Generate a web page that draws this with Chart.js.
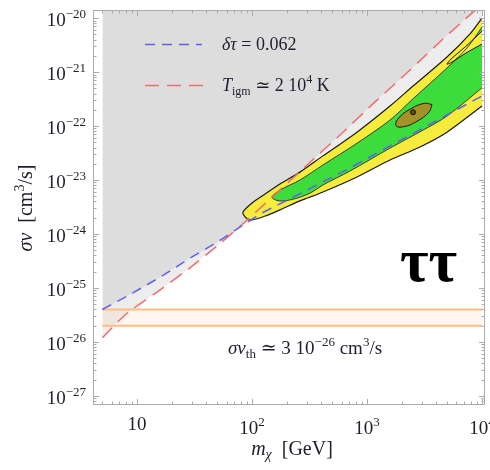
<!DOCTYPE html>
<html>
<head>
<meta charset="utf-8">
<script src="https://cdn.jsdelivr.net/npm/chart.js@4.4.1/dist/chart.umd.min.js"></script>
<style>
  html, body { margin: 0; padding: 0; background: #fff; }
  #wrap { width: 490px; height: 470px; position: relative; }
</style>
</head>
<body>
<div id="wrap"><canvas id="chart"></canvas></div>
<script>
// delta-tau = 0.062 bound (blue dashed), m_chi in GeV, sigma v in cm^3/s
const tauMass  = [5, 9.2, 16, 29, 50, 79, 117, 227, 712, 1585, 3070, 4960, 10000];
const tauSigma = [4.0e-26, 8.1e-26, 1.6e-25, 3.6e-25, 7.1e-25, 1.35e-24, 2.35e-24, 4.8e-24, 1.67e-23, 4.3e-23, 9.2e-23, 1.6e-22, 3.6e-22];

// T_igm ~ 2 10^4 K bound (red dashed)
const igmMass  = [5, 7.9, 14.9, 27.2, 49.6, 86.9, 301, 582, 1175, 2365, 4580, 8360, 10000];
const igmSigma = [1.2e-26, 3.2e-26, 8.4e-26, 2.15e-25, 6.0e-25, 1.67e-24, 1.9e-23, 6.8e-23, 2.8e-22, 1.09e-21, 4.1e-21, 1.29e-20, 1.8e-20];

// thermal relic band
const thermalMass = [5, 10000];
const thermalLow  = [2e-26, 2e-26];
const thermalHigh = [4e-26, 4e-26];

// fit contours, outer (yellow) and inner (green), traced lower edge -> tip -> upper edge
const yellowMass  = [10000, 4960, 2890, 1585, 818, 414, 261, 175, 130, 96, 87, 83.5, 100, 130, 175, 261, 414, 818, 1585, 2512, 4960, 7870, 10000];
const yellowSigma = [2.35e-22, 7.7e-23, 4.1e-23, 2.35e-23, 1.14e-23, 6.0e-24, 4.1e-24, 2.8e-24, 2.15e-24, 1.8e-24, 2.07e-24, 2.55e-24, 3.75e-24, 5.5e-24, 8.4e-24, 1.4e-23, 2.8e-23, 7.7e-23, 2.35e-22, 5.5e-22, 1.9e-21, 5.1e-21, 1.0e-20];

const greenMass  = [10000, 4960, 3070, 1585, 712, 414, 319, 227, 172, 149, 175, 261, 414, 818, 1585, 2512, 4960, 7410, 10000];
const greenSigma = [5.1e-22, 1.53e-22, 8.4e-23, 3.9e-23, 1.47e-23, 8.1e-24, 5.7e-24, 4.4e-24, 4.1e-24, 4.8e-24, 6.5e-24, 1.0e-23, 1.9e-23, 4.8e-23, 1.29e-22, 3.2e-22, 1.19e-21, 2.8e-21, 6.8e-21];

// outer-level island inside the green region, top right
const fingerMass  = [10000, 7260, 5480, 4960, 5380, 7120, 10000];
const fingerSigma = [3.3e-21, 2.25e-21, 1.53e-21, 1.4e-21, 1.74e-21, 2.9e-21, 5.7e-21];

// innermost contour and best fit
const coreMass  = [3675, 3462, 2749, 2077, 1787, 1887, 2389, 3156, 3675];
const coreSigma = [2.5e-22, 1.82e-22, 1.24e-22, 9.7e-23, 1.02e-22, 1.41e-22, 2.07e-22, 2.63e-22, 2.5e-22];
const bestMass  = [2512];
const bestSigma = [1.8e-22];

// axis ticks
const xTickValues = [10, 100, 1000, 10000];
const xTickLabels = ['10', '10^2', '10^3', '10^4'];
const yTickValues = [1e-27, 1e-26, 1e-25, 1e-24, 1e-23, 1e-22, 1e-21, 1e-20];
const yTickLabels = ['10^\u221227', '10^\u221226', '10^\u221225', '10^\u221224', '10^\u221223', '10^\u221222', '10^\u221221', '10^\u221220'];

function pts(xs, ys) {
    return xs.map(function (x, i) { return { x: x, y: ys[i] }; });
}

const SERIF = '"Liberation Serif", "DejaVu Serif", serif';

function richFont(style, size) {
    const small  = style === 'sub' || style === 'sup' || style === 'isub';
    const italic = style === 'i' || style === 'isub';
    return (italic ? 'italic ' : '') + (small ? Math.round(size * 0.68) : size) + 'px ' + SERIF;
}

// draws text made of [string, style] pieces with sub/superscripts
function drawRich(ctx, parts, x, y, size, align) {
    let w = 0;
    parts.forEach(function (p) {
        ctx.font = richFont(p[1], size);
        w += ctx.measureText(p[0]).width;
    });
    let cx = align === 'center' ? x - w / 2 : (align === 'right' ? x - w : x);
    ctx.textAlign = 'left';
    ctx.textBaseline = 'alphabetic';
    parts.forEach(function (p) {
        ctx.font = richFont(p[1], size);
        let dy = 0;
        if (p[1] === 'sup') dy = -size * 0.42;
        if (p[1] === 'sub' || p[1] === 'isub') dy = size * 0.22;
        ctx.fillText(p[0], cx, y + dy);
        cx += ctx.measureText(p[0]).width;
    });
}

function powerParts(label) {
    const bits = label.split('^');
    return bits.length > 1 ? [[bits[0], ''], [bits[1], 'sup']] : [[bits[0], '']];
}

const TAU_BLUE = '#5f5ff2';
const IGM_RED  = '#f06c6c';

// frame with inward ticks on all four sides, tick labels, axis titles
const frameTicks = {
    id: 'frameTicks',
    afterDatasetsDraw: function (chart) {
        const ctx = chart.ctx;
        const a   = chart.chartArea;
        const x   = chart.scales.x;
        const y   = chart.scales.y;

        ctx.save();
        ctx.strokeStyle = '#ababab';
        ctx.lineWidth = 1;
        ctx.strokeRect(a.left + 0.5, a.top + 0.5, a.right - a.left - 1, a.bottom - a.top - 1);

        ctx.beginPath();
        for (let e = 0; e <= 4; e++) {
            for (let k = 1; k <= 9; k++) {
                const v = k * Math.pow(10, e);
                if (v < x.min || v > x.max) continue;
                const px  = Math.round(x.getPixelForValue(v)) + 0.5;
                const len = k === 1 ? 6 : 3.5;
                ctx.moveTo(px, a.bottom); ctx.lineTo(px, a.bottom - len);
                ctx.moveTo(px, a.top);    ctx.lineTo(px, a.top + len);
            }
        }
        for (let e = -28; e <= -20; e++) {
            for (let k = 1; k <= 9; k++) {
                const v = k * Math.pow(10, e);
                if (v < y.min || v > y.max) continue;
                const py  = Math.round(y.getPixelForValue(v)) + 0.5;
                const len = k === 1 ? 6 : 3.5;
                ctx.moveTo(a.left, py);  ctx.lineTo(a.left + len, py);
                ctx.moveTo(a.right, py); ctx.lineTo(a.right - len, py);
            }
        }
        ctx.stroke();

        ctx.fillStyle = '#1e1e28';
        xTickValues.forEach(function (v, i) {
            const parts = powerParts(xTickLabels[i]);
            drawRich(ctx, parts, x.getPixelForValue(v), a.bottom + (parts.length > 1 ? 29 : 25), 19, 'center');
        });
        yTickValues.forEach(function (v, i) {
            drawRich(ctx, powerParts(yTickLabels[i]), a.left - 7, y.getPixelForValue(v) + 8, 19, 'right');
        });

        // axis titles
        drawRich(ctx, [['m', 'i'], ['\u03c7', 'isub'], ['  [GeV]', '']], (a.left + a.right) / 2 + 3, a.bottom + 50, 20, 'center');
        ctx.save();
        ctx.translate(32, 208);
        ctx.rotate(-Math.PI / 2);
        drawRich(ctx, [['\u03c3v', 'i'], ['  [cm', ''], ['3', 'sup'], ['/s]', '']], 0, 0, 20, 'center');
        ctx.restore();
        ctx.restore();
    }
};

// legend, thermal cross section note and channel label
const annotations = {
    id: 'annotations',
    afterDraw: function (chart) {
        const ctx = chart.ctx;
        ctx.save();
        ctx.lineWidth = 1.5;

        ctx.strokeStyle = TAU_BLUE;
        ctx.setLineDash([10, 7]);
        ctx.beginPath(); ctx.moveTo(145, 44.5); ctx.lineTo(202, 44.5); ctx.stroke();

        ctx.strokeStyle = IGM_RED;
        ctx.setLineDash([14, 8]);
        ctx.beginPath(); ctx.moveTo(145, 85.5); ctx.lineTo(206, 85.5); ctx.stroke();
        ctx.setLineDash([]);

        ctx.fillStyle = '#1e1e30';
        drawRich(ctx, [['\u03b4\u03c4', 'i'], [' = 0.062', '']], 222, 50, 18, 'left');
        drawRich(ctx, [['T', 'i'], ['igm', 'sub'], [' \u2243 2 10', ''], ['4', 'sup'], [' K', '']], 222, 91, 18, 'left');
        drawRich(ctx, [['\u03c3v', 'i'], ['th', 'sub'], [' \u2243 3 10', ''], ['\u221226', 'sup'], [' cm', ''], ['3', 'sup'], ['/s', '']], 228, 354, 19, 'left');

        ctx.fillStyle = '#000';
        ctx.font = 'bold 62px ' + SERIF;
        ctx.textAlign = 'left';
        ctx.fillText('\u03c4\u03c4', 400, 281);
        ctx.restore();
    }
};

const GREY_FILL = 'rgba(0,0,0,0.07)';

const datasets = [
    { data: pts(tauMass, tauSigma), fill: 'end', backgroundColor: GREY_FILL, borderWidth: 0, order: 10 },
    { data: pts(igmMass, igmSigma), fill: 'end', backgroundColor: GREY_FILL, borderWidth: 0, tension: 0.2, order: 10 },
    { data: pts(thermalMass, thermalHigh), fill: '+1', backgroundColor: 'rgba(255,170,100,0.1)', borderColor: '#ffbd85', borderWidth: 2, order: 9 },
    { data: pts(thermalMass, thermalLow), fill: false, borderColor: '#ffbd85', borderWidth: 2, order: 9 },
    { data: pts(yellowMass, yellowSigma), fill: 'shape', backgroundColor: '#f7ec3c', borderColor: '#1a1a1a', borderWidth: 1.2, tension: 0.3, order: 6 },
    { data: pts(greenMass, greenSigma), fill: 'shape', backgroundColor: '#3ddc3d', borderColor: '#2a2a2a', borderWidth: 0.9, tension: 0.3, order: 5 },
    { data: pts(fingerMass, fingerSigma), fill: 'shape', backgroundColor: '#f7ec3c', borderColor: '#1a1a1a', borderWidth: 1, tension: 0.3, order: 4 },
    { data: pts(coreMass, coreSigma), fill: 'shape', backgroundColor: '#a39226', borderColor: '#1a1a1a', borderWidth: 1, tension: 0.45, order: 3 },
    { data: pts(tauMass, tauSigma), fill: false, borderColor: TAU_BLUE, borderWidth: 1.5, borderDash: [10, 7], order: 2 },
    { data: pts(igmMass, igmSigma), fill: false, borderColor: IGM_RED, borderWidth: 1.5, borderDash: [14, 8], tension: 0.2, order: 2 },
    { data: pts(bestMass, bestSigma), showLine: false, pointRadius: 2.5, pointBackgroundColor: '#5a4c10', pointBorderColor: '#111', pointBorderWidth: 1, order: 1 }
];

new Chart(document.getElementById('chart'), {
    type: 'line',
    data: { datasets: datasets },
    options: {
        responsive: true,
        maintainAspectRatio: false,
        animation: false,
        layout: { padding: { left: 93, right: 5, top: 10, bottom: 65 } },
        scales: {
            x: { type: 'logarithmic', min: 4.14, max: 10620, display: false },
            y: { type: 'logarithmic', min: 6.8e-28, max: 1.41e-20, display: false }
        },
        elements: { point: { radius: 0 }, line: { tension: 0 } },
        plugins: {
            legend: { display: false },
            tooltip: { enabled: false },
            filler: { drawTime: 'beforeDatasetsDraw' }
        }
    },
    plugins: [frameTicks, annotations]
});
</script>
</body>
</html>
